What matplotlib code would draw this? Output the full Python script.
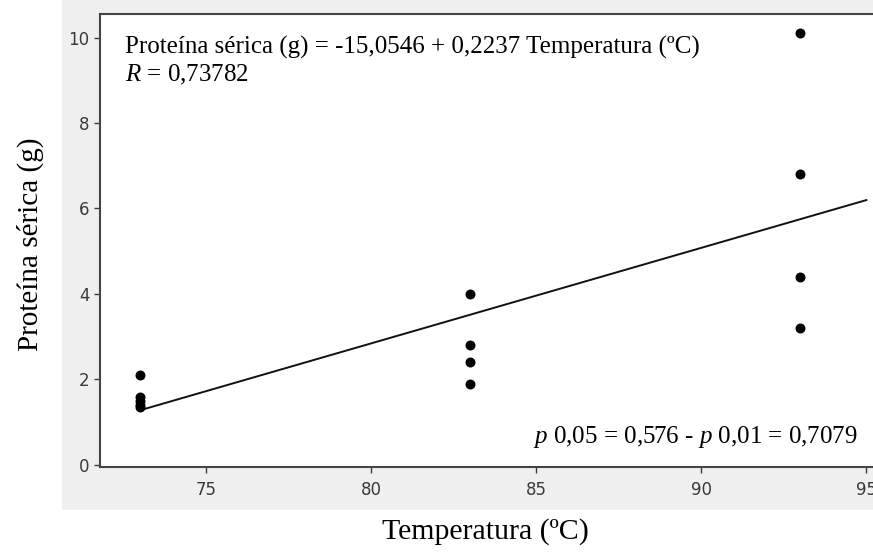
import numpy as np
import matplotlib
matplotlib.use('Agg')
import matplotlib.pyplot as plt
from matplotlib.patches import Rectangle

# data
temp_73 = [73, 73, 73, 73, 73]
prot_73 = [2.1, 1.6, 1.5, 1.4, 1.35]
temp_83 = [83, 83, 83, 83]
prot_83 = [4.0, 2.8, 2.4, 1.9]
temp_93 = [93, 93, 93, 93]
prot_93 = [10.1, 6.8, 4.4, 3.2]

intercept = -15.0546
slope = 0.2237
fit_range = [73, 95]

x_ticks = [75, 80, 85, 90, 95]
y_ticks = [0, 2, 4, 6, 8, 10]

plt.rcParams['mathtext.fontset'] = 'custom'
plt.rcParams['mathtext.rm'] = 'Liberation Serif'
plt.rcParams['mathtext.it'] = 'Liberation Serif:italic'

fig = plt.figure(figsize=(8.73, 5.54), dpi=100)
fig.patch.set_facecolor('white')
# grey window behind the plot
fig.patches.append(Rectangle((0.071, 0.08), 0.93, 0.92, transform=fig.transFigure,
                             facecolor='#efefef', edgecolor='none', zorder=-5))

ax = fig.add_axes([0.1146, 0.157, 0.8854, 0.8177])
ax.set_facecolor('white')

temp = temp_73 + temp_83 + temp_93
prot = prot_73 + prot_83 + prot_93
ax.scatter(temp, prot, s=38, color='black', zorder=3)

xf = np.array(fit_range)
ax.plot(xf, intercept + slope*xf, color='#111111', lw=1.4, zorder=2)

ax.set_xlim(71.8, 95.2)
ax.set_ylim(-0.05, 10.55)
ax.set_xticks(x_ticks)
ax.set_yticks(y_ticks)
ax.tick_params(labelsize=12, colors='#3a3a3a', length=4, width=1)
ax.tick_params(axis='x', pad=6)
for lbl in ax.get_xticklabels() + ax.get_yticklabels():
    lbl.set_family('DejaVu Sans')
ax.spines['right'].set_visible(False)
for s in ['left', 'top', 'bottom']:
    ax.spines[s].set_color('#444444')
    ax.spines[s].set_linewidth(1.5)

serif = 'Liberation Serif'
ax.text(0.032, 0.927, 'Proteína sérica (g) = -15,0546 + 0,2237 Temperatura (ºC)',
        transform=ax.transAxes, family=serif, fontsize=18, va='center')
ax.text(0.032, 0.865, '$R$ = 0,73782', transform=ax.transAxes,
        family=serif, fontsize=18, va='center')
ax.text(0.981, 0.066, '$p$ 0,05 = 0,576 - $p$ 0,01 = 0,7079', transform=ax.transAxes,
        family=serif, fontsize=18, va='center', ha='right')

fig.text(0.035, 1 - 244/554, 'Proteína sérica (g)', family=serif, fontsize=21,
         rotation=90, ha='center', va='center')
fig.text(485/873, 1 - 532/554, 'Temperatura (ºC)', family=serif, fontsize=21.5,
         ha='center', va='center')

fig.savefig('out.png', dpi=100)
